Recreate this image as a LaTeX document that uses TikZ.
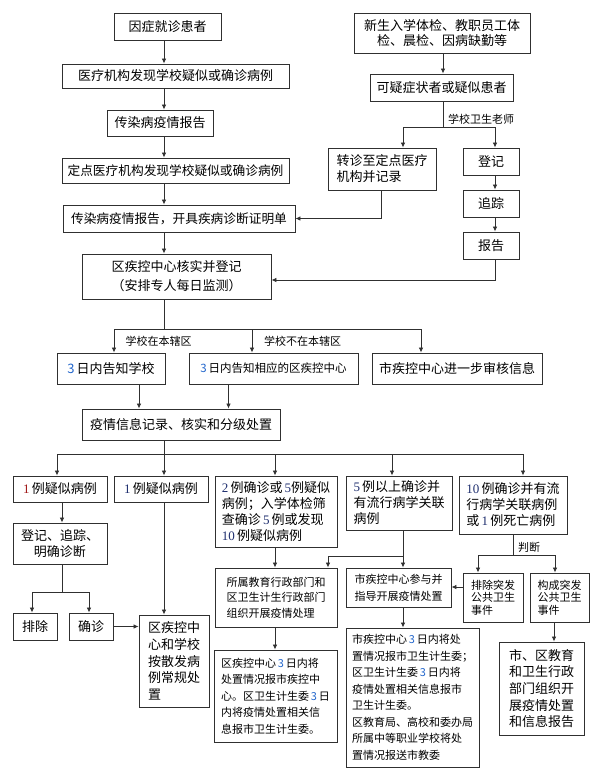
\documentclass[tikz,border=0pt]{standalone}
\usepackage{fontspec}
\setmainfont{Noto Sans CJK SC}
\newfontfamily\numf{Liberation Serif}
\usetikzlibrary{arrows.meta}
\definecolor{numnavy}{HTML}{1F2F6F}
\definecolor{numblue}{HTML}{2266CC}
\definecolor{numred}{HTML}{A01818}
\definecolor{linec}{HTML}{303030}
\newcommand\nv[1]{{\numf\color{numnavy}#1}}
\newcommand\bl[1]{{\color{numblue}#1}}
\newcommand\rd[1]{{\numf\color{numred}#1}}
\newcommand\mybox[7][]{%
  \pgfmathsetmacro\bw{#5-#3}\pgfmathsetmacro\bh{#6-#4}%
  \pgfmathsetmacro\bcx{(#3+#5)/2}\pgfmathsetmacro\bcy{(#4+#6)/2}%
  \node[box,minimum width=\bw pt,minimum height=\bh pt,#1] (#2) at (\bcx,\bcy) {#7};}
\tikzset{
  box/.style={draw=linec, line width=0.9pt, fill=white, inner sep=1pt, align=center,
    font=\fontsize{13}{16}\selectfont},
  fa/.style={font=\fontsize{12.7}{16}\selectfont},
  fb/.style={font=\fontsize{11.5}{15}\selectfont},
  fc/.style={font=\fontsize{11}{16.5}\selectfont},
  fd/.style={font=\fontsize{11}{15.5}\selectfont},
  fe/.style={font=\fontsize{11}{12.5}\selectfont},
  ff/.style={font=\fontsize{13}{16.7}\selectfont},
  conn/.style={draw=linec, line width=0.8pt},
  arr/.style={draw=linec, line width=0.8pt, -{Latex[length=5pt,width=4.5pt]}},
  lbl/.style={font=\fontsize{11}{13}\selectfont, inner sep=0pt}
}
\begin{document}
\begin{tikzpicture}[x=1pt,y=-1pt]
\path[fill=white] (0,0) rectangle (599,782);
\useasboundingbox (0,0) rectangle (599,782);

% left column top
\mybox{a1}{114}{13}{221}{40}{因症就诊患者}
\mybox{a2}{62}{64}{289}{88}{医疗机构发现学校疑似或确诊病例}
\mybox{a3}{107}{110}{213}{136}{传染病疫情报告}
\mybox[fa]{a4}{62}{158}{289}{183}{定点医疗机构发现学校疑似或确诊病例}
\mybox[fa]{a5}{63}{205}{295}{232}{传染病疫情报告，开具疾病诊断证明单}
\mybox[font=\fontsize{13}{19}\selectfont]{a6}{82}{254}{271}{299}{区疾控中心核实并登记\\（安排专人每日监测）}

% right column top
\mybox[font=\fontsize{13}{15.5}\selectfont]{b1}{354}{13}{530}{53}{新生入学体检、教职员工体\\检、晨检、因病缺勤等}
\mybox{b2}{370}{74}{513}{101}{可疑症状者或疑似患者}
\mybox[align=left]{b3}{328}{148}{436}{190}{转诊至定点医疗\\机构并记录}
\mybox{b4}{463}{148}{519}{175}{登记}
\mybox{b5}{463}{190}{519}{217}{追踪}
\mybox{b6}{463}{232}{519}{259}{报告}

% row c
\mybox{c1}{57}{353}{165}{384}{\bl{3}\,日内告知学校}
\mybox[fb]{c2}{189}{353}{358}{384}{\bl{3}\,日内告知相应的区疾控中心}
\mybox{c3}{372}{353}{542}{384}{市疾控中心进一步审核信息}
\mybox{d1}{82}{409}{280}{440}{疫情信息记录、核实和分级处置}

% row e
\mybox{e1}{13}{476}{107}{502}{\rd{1}\,例疑似病例}
\mybox{e2}{114}{476}{208}{502}{\nv{1}\,例疑似病例}
\mybox[align=left]{e3}{215}{476}{337}{547}{\nv{2}\,例确诊或\,\nv{5}例疑似\\病例；入学体检筛\\查确诊\,\nv{5}\,例或发现\\\nv{10}\,例疑似病例}
\mybox[align=left]{e4}{346}{476}{452}{530}{\nv{5}\,例以上确诊并\\有流行病学关联\\病例}
\mybox[align=left]{e5}{459}{476}{567}{534}{\nv{10}\,例确诊并有流\\行病学关联病例\\或\,\nv{1}\,例死亡病例}

% lower left
\mybox{f1}{13}{523}{107}{564}{登记、追踪、\\明确诊断}
\mybox{g1}{13}{613}{57}{640}{排除}
\mybox{g2}{69}{613}{113}{640}{确诊}
\mybox[ff,align=left]{h1}{139}{615}{209}{707}{区疾控中\\心和学校\\按散发病\\例常规处\\置}

% lower middle/right
\mybox[fd,align=left]{f3}{215}{568}{337}{627}{所属教育行政部门和\\区卫生计生行政部门\\组织开展疫情处理}
\mybox[font=\fontsize{11}{17}\selectfont,align=left]{f4}{346}{568}{451}{607}{市疾控中心参与并\\指导开展疫情处置}
\mybox[fe,align=left]{f5}{463}{573}{523}{622}{排除突发\\公共卫生\\事件}
\mybox[fe,align=left]{f6}{530}{573}{589}{622}{构成突发\\公共卫生\\事件}
\mybox[fc,align=left]{g3}{214}{650}{337}{742}{区疾控中心\,\bl{3}\,日内将\\处置情况报市疾控中\\心。区卫生计生委\,\bl{3}\,日\\内将疫情处置相关信\\息报市卫生计生委。}
\mybox[fc,align=left]{g4}{346}{628}{479}{767}{市疾控中心\,\bl{3}\,日内将处\\置情况报市卫生计生委；\\区卫生计生委\,\bl{3}\,日内将\\疫情处置相关信息报市\\卫生计生委。\\区教育局、高校和委办局\\所属中等职业学校将处\\置情况报送市教委}
\mybox[ff,align=left]{g5}{499}{642}{584}{735}{市、区教育\\和卫生行政\\部门组织开\\展疫情处置\\和信息报告}

% coordinates
\coordinate (xa) at (164,0);
\coordinate (xb) at (443,0);
\coordinate (bj) at (443,127);
\coordinate (x403) at (403,0);
\coordinate (x495) at (495,0);
\coordinate (x381) at (381,0);
\coordinate (y280) at (0,280);
\coordinate (cj) at (164,329.5);
\coordinate (x114) at (114,0);
\coordinate (x252) at (252,0);
\coordinate (x421) at (421,0);
\coordinate (x139) at (139,0);
\coordinate (x228) at (228.5,0);
\coordinate (dj) at (164,454);
\coordinate (x57) at (57,0);
\coordinate (x275) at (275,0);
\coordinate (x392) at (392,0);
\coordinate (x523) at (523,0);
\coordinate (x62) at (62,0);
\coordinate (fj) at (62,592);
\coordinate (x32) at (32,0);
\coordinate (x89) at (89,0);
\coordinate (ej) at (403,556);
\coordinate (x328) at (328,0);
\coordinate (e5j) at (513,555);
\coordinate (x478) at (478,0);
\coordinate (x555) at (555,0);
\coordinate (y587) at (0,587);
\coordinate (x554) at (554,0);

% left chain
\draw[arr] (a1.south -| xa) -- (a2.north -| xa);
\draw[arr] (a2.south -| xa) -- (a3.north -| xa);
\draw[arr] (a3.south -| xa) -- (a4.north -| xa);
\draw[arr] (a4.south -| xa) -- (a5.north -| xa);
\draw[arr] (a5.south -| xa) -- (a6.north -| xa);

% right chain
\draw[arr] (b1.south -| xb) -- (b2.north -| xb);
\draw[conn] (b2.south -| xb) -- (bj);
\draw[arr] (bj) -- (bj -| x403) -- (b3.north -| x403);
\draw[arr] (bj) -- (bj -| x495) -- (b4.north -| x495);
\node[lbl] (t1) at (481,119) {学校卫生老师};
\draw[arr] (b4.south -| x495) -- (b5.north -| x495);
\draw[arr] (b5.south -| x495) -- (b6.north -| x495);
\draw[arr] (b3.south -| x381) |- (a5.east);
\draw[arr] (b6.south -| x495) |- (a6.east |- y280);

% a6 split
\draw[conn] (a6.south -| xa) -- (cj);
\draw[arr] (cj) -- (cj -| x114) -- (c1.north -| x114);
\draw[arr] (cj) -- (cj -| x252) -- (c2.north -| x252);
\draw[arr] (cj) -- (cj -| x421) -- (c3.north -| x421);
\node[lbl] (t2) at (158.5,341) {学校在本辖区};
\node[lbl] (t3) at (302.5,341) {学校不在本辖区};

% to d1
\draw[arr] (c1.south -| x139) -- (d1.north -| x139);
\draw[arr] (c2.south -| x228) -- (d1.north -| x228);

% d1 split
\draw[conn] (d1.south -| xa) -- (dj);
\draw[arr] (dj) -- (dj -| x57) -- (e1.north -| x57);
\draw[arr] (dj) -- (e2.north -| xa);
\draw[arr] (dj) -- (dj -| x275) -- (e3.north -| x275);
\draw[arr] (dj) -- (dj -| x392) -- (e4.north -| x392);
\draw[arr] (dj) -- (dj -| x523) -- (e5.north -| x523);

% left lower
\draw[arr] (e1.south -| x62) -- (f1.north -| x62);
\draw[conn] (f1.south -| x62) -- (fj);
\draw[arr] (fj) -- (fj -| x32) -- (g1.north -| x32);
\draw[arr] (fj) -- (fj -| x89) -- (g2.north -| x89);
\draw[arr] (e2.south -| xa) -- (h1.north -| xa);
\draw[arr] (g2.east) -- (h1.west |- g2.east);

% middle lower
\draw[arr] (e3.south -| x275) -- (f3.north -| x275);
\draw[arr] (f3.south -| x275) -- (g3.north -| x275);
\draw[arr] (e4.south -| x403) -- (f4.north -| x403);
\draw[arr] (ej) -- (ej -| x328) -- (f3.north -| x328);
\draw[arr] (f4.south -| x403) -- (g4.north -| x403);

% right lower
\draw[conn] (e5.south -| e5j) -- (e5j);
\draw[arr] (e5j) -- (e5j -| x478) -- (f5.north -| x478);
\draw[arr] (e5j) -- (e5j -| x555) -- (f6.north -| x555);
\node[lbl] (t4) at (529,547) {判断};
\draw[arr] (f5.west |- y587) -- (f4.east |- y587);
\draw[arr] (f6.south -| x554) -- (g5.north -| x554);
\end{tikzpicture}
\end{document}
